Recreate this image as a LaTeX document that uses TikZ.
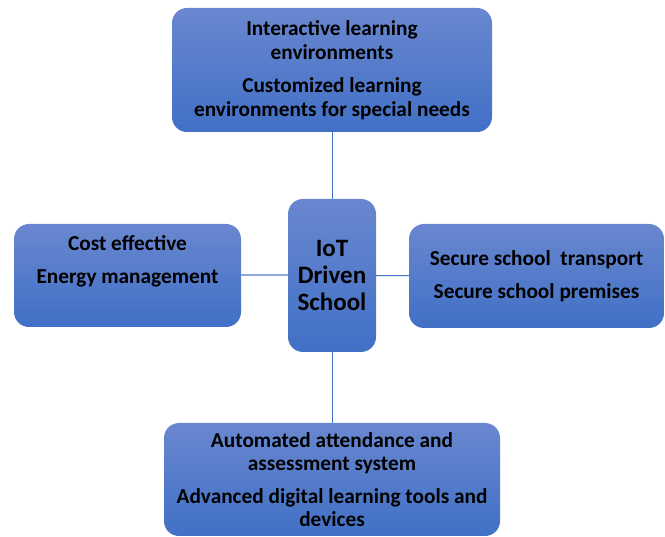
\documentclass[tikz,border=0pt]{standalone}
\usepackage{fontspec}
\setmainfont{Carlito}
\usetikzlibrary{shapes,arrows}
\definecolor{boxtop}{HTML}{6987CF}
\definecolor{boxbottom}{HTML}{4170C6}
\definecolor{edgeblue}{HTML}{4472C4}
\definecolor{edgelight}{HTML}{8EA9DB}
\tikzstyle{block} = [rectangle, top color=boxtop, bottom color=boxbottom,
    align=center, rounded corners=15pt, inner sep=0pt,
    font=\bfseries\fontsize{21.3}{23.5}\selectfont]
\tikzstyle{line} = [draw, edgeblue, line width=1pt]

\begin{document}
\begin{tikzpicture}[x=1pt, y=-1pt]
    \useasboundingbox (0,0) rectangle (665,537);
    % Place nodes
    \node [block, minimum width=88pt, minimum height=153pt,
        font=\bfseries\fontsize{25}{27}\selectfont] (school) at (332,275.5) {IoT\\Driven\\School};
    \node [block, minimum width=320pt, minimum height=124pt] (learning) at (332,70)
        {Interactive learning\\environments\\[10pt]Customized learning\\environments for special needs};
    \node [block, minimum width=227pt, minimum height=103pt] (energy) at (127.5,275.5)
        {Cost effective\\[10pt]Energy management\\[1pt]\strut};
    \node [block, minimum width=255pt, minimum height=104pt] (security) at (536.5,276)
        {Secure school\ \ transport\\[10pt]Secure school premises};
    \node [block, minimum width=336pt, minimum height=113pt] (tools) at (332,479.5)
        {Automated attendance and\\assessment system\\[9pt]Advanced digital learning tools and\\devices};
    % Draw edges
    \path [line] (learning) -- (school);
    \path [line] (school) -- (tools);
    \path [line, edgelight, line width=2pt] (energy) -- (school);
    \path [line] (school) -- (security);
\end{tikzpicture}
\end{document}
